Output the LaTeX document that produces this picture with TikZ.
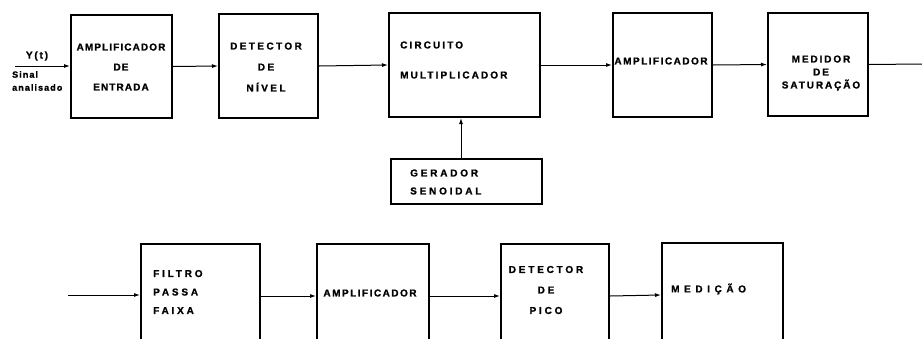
\documentclass[tikz,border=0pt]{standalone}
\usepackage{fontspec}
\usepackage{tikz}
\usetikzlibrary{arrows.meta}
\newfontfamily\blkfont{Liberation Sans}[UprightFont=*-Bold, FakeBold=1.2]
\newcommand\lbl[2]{\blkfont\fontsize{10}{#2}\selectfont\addfontfeature{LetterSpace=#1}}
\tikzset{
  blk/.style 2 args={draw, line width=2pt, minimum width=#1, minimum height=#2,
    anchor=north west, inner sep=0pt},
  txt/.style 2 args={font=\lbl{#1}{#2}, align=center, inner sep=0pt},
  con/.style={->, line width=1pt}
}
\begin{document}
\begin{tikzpicture}[x=1pt, y=-1pt, >={Latex[length=6pt,width=4pt]}]
  \useasboundingbox (0,0) rectangle (922,338);
  \clip (0,0) rectangle (922,338);
  % upper chain
  \node[blk={101pt}{103pt}] (b1) at (70,14) {};
  \node[blk={99pt}{104pt}] (b2) at (218,13) {};
  \node[blk={151pt}{104pt}] (b3) at (388,12) {};
  \node[blk={99pt}{104pt}] (b4) at (612,12) {};
  \node[blk={100pt}{103pt}] (b5) at (767,12) {};
  \node[blk={151pt}{45pt}] (gen) at (390,158) {};
  \node[txt={11}{20}] (t1) at (121,67) {AMPLIFICADOR\\DE\\ENTRADA};
  \node[txt={24}{21}] (t2) at (266,67) {DETECTOR\\DE\\NÍVEL};
  \node[txt={21}{30}, align=left, anchor=west] (t3) at (400,60) {CIRCUITO\\MULTIPLICADOR};
  \node[txt={15}{11}] (t4) at (661,61) {AMPLIFICADOR};
  \node[txt={19}{13}] (t5) at (821,73) {MEDIDOR\\DE\\SATURAÇÃO};
  \node[txt={28}{18}, align=left, anchor=west] (t6) at (410,182) {GERADOR\\SENOIDAL};
  \node[txt={18}{10}] (ylab) at (37,56) {Y(t)};
  \node[font=\blkfont\fontsize{9}{13}\selectfont\addfontfeature{LetterSpace=12},
    align=left, anchor=west, inner sep=0pt] (sig) at (12,81) {Sinal\\analisado};
  \coordinate (in) at (15,66);
  \coordinate (out) at (922,64);
  \draw[con] (in) -- (in -| b1.west);
  \draw[con] (b1.east) -- (b2.west);
  \draw[con] (b2.east) -- (b3.west);
  \draw[con] (b3.east) -- (b4.west);
  \draw[con] (b4.east) -- (b5.west);
  \draw[line width=1pt] (b5.east) -- (out);
  \draw[con] (gen.north -| 461,0) -- (b3.south -| 461,0);
  % lower chain
  \node[blk={119pt}{104pt}] (b6) at (140,243) {};
  \node[blk={112pt}{104pt}] (b7) at (316,243) {};
  \node[blk={108pt}{104pt}] (b8) at (500,243) {};
  \node[blk={121pt}{104pt}] (b9) at (661,242) {};
  \node[txt={28}{18.5}, align=left, anchor=west] (t7) at (153,292) {FILTRO\\PASSA\\FAIXA};
  \node[txt={15}{11}] (t8) at (370,293) {AMPLIFICADOR};
  \node[txt={28}{20.5}] (t9) at (546,290) {DETECTOR\\DE\\PICO};
  \node[txt={46}{11}, anchor=west] (t10) at (671,289) {MEDIÇÃO};
  \coordinate (in2) at (68,295);
  \draw[con] (in2) -- (in2 -| b6.west);
  \draw[con] (b6.east) -- (b7.west);
  \draw[con] (b7.east) -- (b8.west);
  \draw[con] (b8.east) -- (b9.west);
\end{tikzpicture}
\end{document}
